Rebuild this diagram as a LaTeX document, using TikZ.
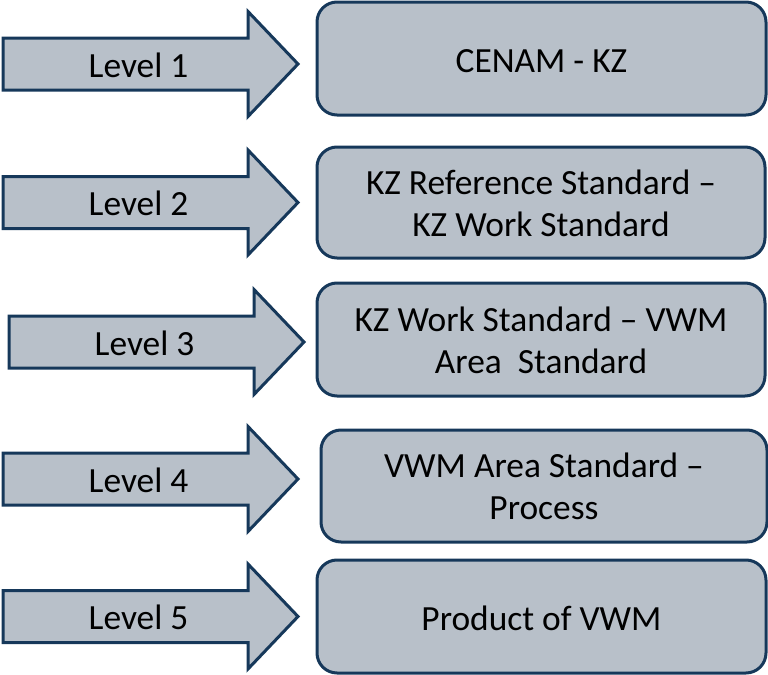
\documentclass[tikz,border=0pt]{standalone}
\usepackage{fontspec}
\setmainfont{Carlito}
\definecolor{boxfill}{RGB}{184,192,201}
\definecolor{boxline}{RGB}{22,56,90}
\begin{document}
\begin{tikzpicture}[x=0.5pt,y=-0.5pt,
  arrowshape/.style={fill=boxfill,draw=boxline,line width=1.5pt,line join=miter},
  lvl/.style={inner sep=0pt,text height=11.4pt,text depth=0pt,font=\fontsize{17.7pt}{21pt}\selectfont},
  levelbox/.style={rectangle,rounded corners=10pt,fill=boxfill,draw=boxline,line width=1.5pt,
    inner sep=0pt,align=center,text depth=0pt,font=\fontsize{17.7pt}{21pt}\selectfont},
  one/.style={text height=13.6pt},
  two/.style={text height=33.8pt}]
\useasboundingbox (0,0) rectangle (768,675);
\foreach \i/\l/\c in {1/3/64,2/3/202.5,3/9/342,4/3/479,5/3/616.5}{
  \draw[arrowshape] (\l,\c-26) -- (\l+245,\c-26) -- (\l+245,\c-52.5) -- (\l+295,\c)
    -- (\l+245,\c+52.5) -- (\l+245,\c+26) -- (\l,\c+26) -- cycle;
  \node[lvl] (lv\i) at (\l+135.5,\c+2) {Level \i};
}
\node[levelbox,one,minimum width=224.5pt,minimum height=56.5pt] (b1) at (541.5,58.5) {CENAM - KZ};
\node[levelbox,two,minimum width=224pt,minimum height=55.5pt] (b2) at (541,202.5) {KZ Reference Standard –\\KZ Work Standard};
\node[levelbox,two,minimum width=224pt,minimum height=56.5pt] (b3) at (541,339.5) {KZ Work Standard – VWM\\Area~ Standard};
\node[levelbox,two,minimum width=223pt,minimum height=56pt] (b4) at (544,486) {VWM Area Standard –\\Process};
\node[levelbox,one,minimum width=224.5pt,minimum height=56.5pt] (b5) at (541.5,616.5) {Product of VWM};
\end{tikzpicture}
\end{document}
